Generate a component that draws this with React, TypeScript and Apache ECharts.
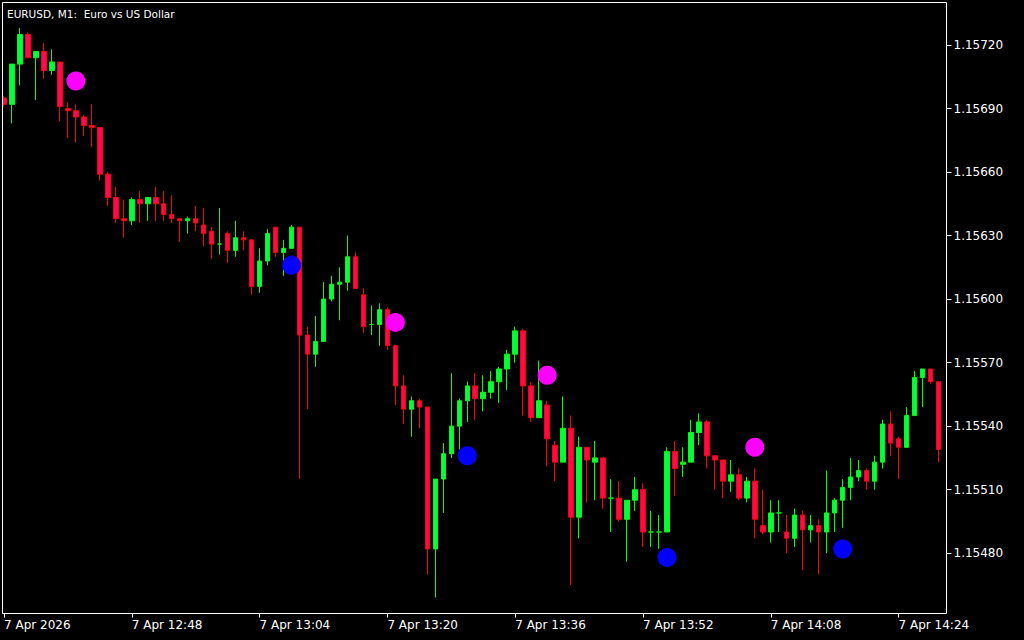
import React, { useEffect, useRef } from "react";
import * as echarts from "echarts";

// EURUSD M1 candles, 7 Apr 2026 starting 12:32
const opens = [
  1.15695, 1.15692, 1.15711, 1.15725, 1.15714, 1.15717, 1.15708, 1.15712, 1.1569, 1.15689,
  1.15686, 1.15682, 1.15681, 1.15659, 1.15648, 1.15638, 1.15637, 1.15647, 1.15645, 1.15648,
  1.15645, 1.1564, 1.15638, 1.15637, 1.15638, 1.15635, 1.15632, 1.15626, 1.15631, 1.15623,
  1.15629, 1.15628, 1.15606, 1.15618, 1.15634, 1.15622, 1.15624, 1.15634, 1.15583, 1.15574,
  1.1558, 1.156, 1.15607, 1.15608, 1.1562, 1.15602, 1.15588, 1.15588, 1.15595, 1.15578,
  1.15559, 1.15548, 1.15552, 1.15549, 1.15482, 1.15515, 1.15527, 1.1554, 1.15552, 1.15559,
  1.15553, 1.15556, 1.15561, 1.15567, 1.15574, 1.15585, 1.15559, 1.15544, 1.1555, 1.15531,
  1.15523, 1.15539, 1.15497, 1.1553, 1.15523, 1.15525, 1.15506, 1.15506, 1.15496, 1.15505,
  1.1551, 1.1549, 1.1549, 1.1549, 1.15528, 1.15522, 1.15523, 1.15537, 1.15542, 1.15526,
  1.15524, 1.15514, 1.15517, 1.15506, 1.15514, 1.15493, 1.1549, 1.15499, 1.1549, 1.15487,
  1.15498, 1.15491, 1.15493, 1.1549, 1.15499, 1.15505, 1.15511, 1.15516, 1.15519, 1.15514,
  1.15523, 1.15541, 1.15534, 1.1553, 1.15545, 1.15563, 1.15567, 1.15561,
];
const closes = [
  1.15692, 1.15711, 1.15725, 1.15714, 1.15717, 1.15708, 1.15712, 1.15691, 1.15689, 1.15686,
  1.15682, 1.15681, 1.15659, 1.15648, 1.15638, 1.15637, 1.15647, 1.15645, 1.15648, 1.15645,
  1.1564, 1.15638, 1.15637, 1.15638, 1.15636, 1.15631, 1.15626, 1.15626, 1.15623, 1.15629,
  1.15628, 1.15606, 1.15618, 1.15631, 1.15622, 1.15624, 1.15634, 1.15583, 1.15574, 1.1558,
  1.156, 1.15607, 1.15608, 1.1562, 1.15605, 1.15587, 1.15588, 1.15595, 1.15578, 1.15559,
  1.15548, 1.15552, 1.15549, 1.15482, 1.15515, 1.15527, 1.1554, 1.15552, 1.15559, 1.15553,
  1.15556, 1.15561, 1.15567, 1.15574, 1.15585, 1.15559, 1.15544, 1.15552, 1.15534, 1.15523,
  1.15539, 1.15497, 1.1553, 1.15524, 1.15525, 1.15506, 1.15506, 1.15496, 1.15505, 1.1551,
  1.1549, 1.1549, 1.1549, 1.15528, 1.1552, 1.15523, 1.15537, 1.15542, 1.15526, 1.15524,
  1.15514, 1.15517, 1.15506, 1.15514, 1.15496, 1.1549, 1.15499, 1.15499, 1.15487, 1.15498,
  1.15491, 1.15493, 1.1549, 1.15499, 1.15505, 1.15511, 1.15516, 1.15519, 1.15514, 1.15523,
  1.15541, 1.15532, 1.1553, 1.15545, 1.15563, 1.15567, 1.15561, 1.15529,
];
const lows = [
  1.15691, 1.15683, 1.15701, 1.15714, 1.15694, 1.15704, 1.15706, 1.15684, 1.15676, 1.15674,
  1.15677, 1.15672, 1.15656, 1.15644, 1.15636, 1.15629, 1.15635, 1.15636, 1.15637, 1.15637,
  1.15637, 1.15636, 1.15627, 1.15631, 1.15632, 1.15625, 1.15619, 1.15621, 1.15617, 1.1562,
  1.15623, 1.15602, 1.15603, 1.15616, 1.1562, 1.15611, 1.15624, 1.15515, 1.15548, 1.15568,
  1.1558, 1.15599, 1.1559, 1.15604, 1.15605, 1.15584, 1.15583, 1.15578, 1.15576, 1.1555,
  1.15541, 1.15535, 1.15539, 1.1547, 1.15459, 1.15499, 1.15525, 1.15529, 1.15542, 1.15543,
  1.15547, 1.15553, 1.15551, 1.15557, 1.1557, 1.15545, 1.15542, 1.15544, 1.15521, 1.15514,
  1.15523, 1.15465, 1.15487, 1.15504, 1.15505, 1.15501, 1.1549, 1.15495, 1.15476, 1.155,
  1.15483, 1.15483, 1.15482, 1.1549, 1.15507, 1.15516, 1.15523, 1.15531, 1.1552, 1.1551,
  1.15506, 1.15509, 1.15505, 1.15504, 1.15487, 1.15489, 1.15485, 1.1549, 1.1548, 1.15483,
  1.15472, 1.15485, 1.1547, 1.1548, 1.1549, 1.15492, 1.15505, 1.15514, 1.1551, 1.1551,
  1.1552, 1.15526, 1.15515, 1.1553, 1.15545, 1.15549, 1.1556, 1.15523,
];
const highs = [
  1.15696, 1.15711, 1.15728, 1.15726, 1.15717, 1.15721, 1.15718, 1.15712, 1.15693, 1.15692,
  1.15687, 1.15692, 1.15681, 1.1566, 1.15653, 1.15647, 1.15648, 1.15651, 1.15648, 1.15653,
  1.15651, 1.15649, 1.15638, 1.15639, 1.15644, 1.15643, 1.15634, 1.15643, 1.15632, 1.15637,
  1.15632, 1.15628, 1.15624, 1.15633, 1.15634, 1.15628, 1.15635, 1.15634, 1.15587, 1.15592,
  1.15608, 1.15611, 1.15615, 1.1563, 1.15622, 1.15605, 1.15597, 1.15598, 1.15596, 1.15578,
  1.15564, 1.15554, 1.15553, 1.15549, 1.15515, 1.15532, 1.15565, 1.15553, 1.15561, 1.15565,
  1.15564, 1.15566, 1.15568, 1.15576, 1.15587, 1.15586, 1.15561, 1.15571, 1.15552, 1.15533,
  1.15554, 1.15545, 1.15535, 1.1553, 1.15533, 1.15525, 1.15515, 1.15514, 1.15505, 1.15516,
  1.15513, 1.155, 1.15498, 1.1553, 1.15533, 1.1553, 1.15543, 1.15546, 1.15543, 1.15526,
  1.15524, 1.15524, 1.1552, 1.15516, 1.1552, 1.1551, 1.15505, 1.15505, 1.15498, 1.15501,
  1.155, 1.15498, 1.15496, 1.15519, 1.15506, 1.15515, 1.15525, 1.15524, 1.1552, 1.15526,
  1.15543, 1.15547, 1.15535, 1.15549, 1.15566, 1.15567, 1.15567, 1.15561,
];

// Signal dots: [candle index, price]
const sellSignals: [number, number][] = [
  [9, 1.15703],
  [49, 1.15589],
  [68, 1.15564],
  [94, 1.1553],
];
const buySignals: [number, number][] = [
  [36, 1.15616],
  [58, 1.15526],
  [83, 1.15478],
  [105, 1.15482],
];

const yTickValues = [1.1548, 1.1551, 1.1554, 1.1557, 1.156, 1.1563, 1.1566, 1.1569, 1.1572];
const xTickLabels = [
  "7 Apr 2026",
  "7 Apr 12:48",
  "7 Apr 13:04",
  "7 Apr 13:20",
  "7 Apr 13:36",
  "7 Apr 13:52",
  "7 Apr 14:08",
  "7 Apr 14:24",
];
const START_MINUTE = 12 * 60 + 32;
const PRICE_MIN = 1.154515;
const PRICE_MAX = 1.157401;
const TITLE = "EURUSD, M1:  Euro vs US Dollar";

const categories = opens.map((_, i) => {
  const m = START_MINUTE + i;
  return `${Math.floor(m / 60)}:${String(m % 60).padStart(2, "0")}`;
});

export default function App() {
  const ref = useRef<HTMLDivElement>(null);

  useEffect(() => {
    if (!ref.current) return;
    const chart = echarts.init(ref.current, null, { renderer: "svg" });
    const candleData = opens.map((o, i) => [o, closes[i], lows[i], highs[i]]);
    const font = "DejaVu Sans";
    chart.setOption({
      animation: false,
      backgroundColor: "#000000",
      grid: { left: -1.5, top: 2.5, width: 944, height: 611 },
      xAxis: {
        type: "category",
        data: categories,
        boundaryGap: true,
        axisLine: { show: false },
        axisTick: {
          show: true,
          alignWithLabel: true,
          interval: 15,
          length: 4,
          lineStyle: { color: "#ffffff", width: 1 },
        },
        axisLabel: {
          interval: 15,
          align: "left",
          margin: 5,
          color: "#ffffff",
          fontFamily: font,
          fontSize: 12,
          formatter: (_v: string, i: number) => xTickLabels[Math.round(i / 16)] ?? "",
        },
        splitLine: { show: false },
      },
      yAxis: {
        type: "value",
        position: "right",
        offset: 4,
        min: PRICE_MIN,
        max: PRICE_MAX,
        scale: true,
        axisLine: { show: false },
        splitLine: { show: false },
        axisTick: {
          show: true,
          length: 5,
          customValues: yTickValues,
          lineStyle: { color: "#ffffff", width: 1 },
        },
        axisLabel: {
          customValues: yTickValues,
          margin: 7,
          color: "#ffffff",
          fontFamily: font,
          fontSize: 12,
          formatter: (v: number) => v.toFixed(5),
        },
      },
      series: [
        {
          type: "candlestick",
          data: candleData,
          barWidth: 5,
          itemStyle: {
            color: "#00ff40",
            color0: "#ff0a50",
            borderColor: "#00ff00",
            borderColor0: "#ff0000",
            borderWidth: 1,
          },
        },
        {
          type: "scatter",
          data: sellSignals,
          symbol: "circle",
          symbolSize: 19,
          itemStyle: { color: "#ff00ff", opacity: 1 },
          z: 5,
        },
        {
          type: "scatter",
          data: buySignals,
          symbol: "circle",
          symbolSize: 19,
          itemStyle: { color: "#0000ff", opacity: 1 },
          z: 5,
        },
      ],
      graphic: [
        {
          type: "rect",
          z: 100,
          silent: true,
          shape: { x: 0, y: 0, width: 2, height: 614 },
          style: { fill: "#000000" },
        },
        {
          type: "rect",
          z: 101,
          silent: true,
          shape: { x: 2.5, y: 2.5, width: 944, height: 611 },
          style: { fill: "none", stroke: "#ffffff", lineWidth: 1 },
        },
        {
          type: "text",
          z: 102,
          silent: true,
          x: 7,
          y: 14,
          style: {
            text: TITLE,
            fill: "#ffffff",
            font: `10.5px "${font}"`,
            verticalAlign: "middle",
            align: "left",
          },
        },
      ],
    });
    return () => chart.dispose();
  }, []);

  return (
    <div
      ref={ref}
      style={{ position: "fixed", left: 0, top: 0, width: 1024, height: 640, background: "#000" }}
    />
  );
}
